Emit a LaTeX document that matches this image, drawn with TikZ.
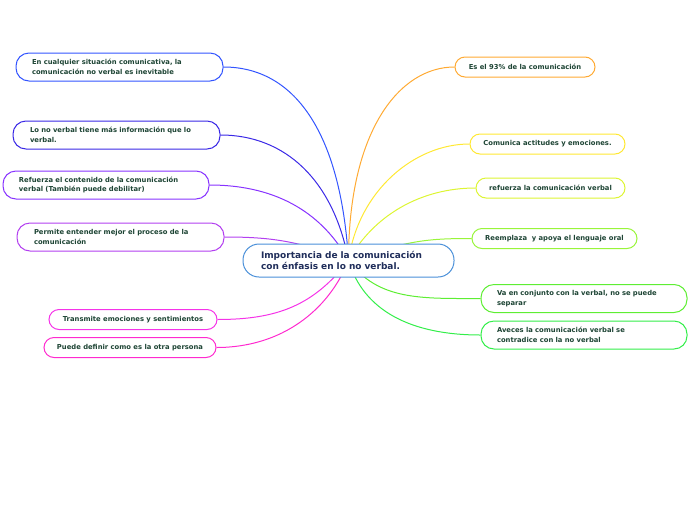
\documentclass[tikz,border=0pt]{standalone}
\usepackage{fontspec}
\setmainfont{DejaVu Sans}
\usetikzlibrary{backgrounds}
\definecolor{hubline}{HTML}{4A90D9}
\definecolor{hubtext}{HTML}{1F2D5A}
\definecolor{leaftext}{HTML}{1E4535}
\definecolor{cblue}{HTML}{3355FF}
\definecolor{cindigo}{HTML}{3A28E6}
\definecolor{cviolet}{HTML}{8833FF}
\definecolor{cpurple}{HTML}{B340F0}
\definecolor{cmagenta}{HTML}{F533E8}
\definecolor{cpink}{HTML}{FF2ACF}
\definecolor{corange}{HTML}{FFAA33}
\definecolor{cyellow}{HTML}{FFE833}
\definecolor{clime}{HTML}{DDF533}
\definecolor{clgreen}{HTML}{99F53A}
\definecolor{cgreen}{HTML}{5EEE33}
\definecolor{cgreenb}{HTML}{33EE4A}

\begin{document}
\begin{tikzpicture}[x=1pt, y=-1pt,
  leaf/.style={draw, fill=white, line width=1pt, rounded corners=10pt, text=leaftext,
    font=\fontsize{6.8}{9.8}\selectfont\bfseries, minimum height=20pt},
  oneline/.style={leaf, minimum width=#1, inner xsep=0pt, align=center},
  twolines/.style={leaf, rounded corners=13pt, minimum height=28pt, inner xsep=16pt, text width=#1, align=left},
  branch/.style={line width=1pt}]
\useasboundingbox (0,0) rectangle (696,520);

% centre
\node[draw=hubline, fill=white, line width=1pt, rounded corners=16pt, text=hubtext,
  font=\fontsize{9}{11}\selectfont\bfseries, minimum height=33pt, inner xsep=18pt,
  text width=175pt, align=left] (main) at (348.5,260.5)
  {Importancia de la comunicación\\con énfasis en lo no verbal.};

% left side
\node[twolines=175pt, draw=cblue] (inev) at (119.5,67)
  {En cualquier situación comunicativa, la\\comunicación no verbal es inevitable};
\node[twolines=173pt, draw=cindigo, inner xsep=17pt] (masinfo) at (116.5,135)
  {Lo no verbal tiene más información que lo\\verbal.};
\node[twolines=174pt, draw=cviolet] (refc) at (106,185)
  {Refuerza el contenido de la comunicación\\verbal (También puede debilitar)};
\node[twolines=173pt, draw=cpurple, inner xsep=17pt] (proc) at (120.5,237)
  {Permite entender mejor el proceso de la\\comunicación};
\node[oneline=168pt, draw=cmagenta] (emoc) at (133,319.5) {Transmite emociones y sentimientos};
\node[oneline=172pt, draw=cpink] (pers) at (130,347.5) {Puede definir como es la otra persona};

% right side
\node[oneline=140pt, draw=corange] (pct) at (525,67) {Es el 93\% de la comunicación};
\node[oneline=155pt, draw=cyellow] (actit) at (547.5,144) {Comunica actitudes y emociones.};
\node[oneline=149pt, draw=clime] (refv) at (550.5,188) {refuerza la comunicación verbal};
\node[oneline=165pt, draw=clgreen] (reemp) at (554.5,238.5) {Reemplaza\ \ y apoya el lenguaje oral};
\node[twolines=174pt, draw=cgreen] (conj) at (584,298.5)
  {Va en conjunto con la verbal, no se puede\\separar};
\node[twolines=174pt, draw=cgreenb] (contra) at (584,335)
  {Aveces la comunicación verbal se\\contradice con la no verbal};

\begin{scope}[on background layer]
\draw[branch, cblue] (main.center) .. controls +(-8,-130) and +(70,0) .. (inev.east);
\draw[branch, cindigo] (main.center) .. controls +(-15,-80) and +(65,0) .. (masinfo.east);
\draw[branch, cviolet] (main.center) .. controls +(-25,-45) and +(70,0) .. (refc.east);
\draw[branch, cpurple] (main.center) .. controls +(-50,-20) and +(45,0) .. (proc.east);
\draw[branch, cmagenta] (main.center) .. controls +(-35,45) and +(60,0) .. (emoc.east);
\draw[branch, cpink] (main.center) .. controls +(-20,50) and +(65,0) .. (pers.east);
\draw[branch, corange] (main.center) .. controls +(0,-130) and +(-55,0) .. (pct.west);
\draw[branch, cyellow] (main.center) .. controls +(10,-70) and +(-55,0) .. (actit.west);
\draw[branch, clime] (main.center) .. controls +(25,-45) and +(-55,0) .. (refv.west);
\draw[branch, clgreen] (main.center) .. controls +(60,-20) and +(-45,0) .. (reemp.west);
\draw[branch, cgreen] (main.center) .. controls +(30,40) and +(-60,0) .. (conj.west);
\draw[branch, cgreenb] (main.center) .. controls +(15,50) and +(-70,0) .. (contra.west);
\end{scope}
\end{tikzpicture}
\end{document}
